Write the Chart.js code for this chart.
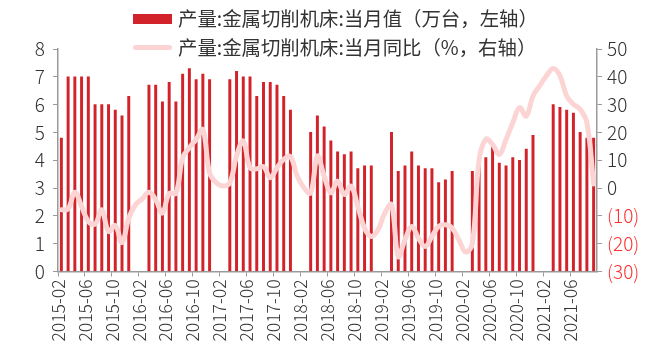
<!DOCTYPE html>
<html>
<head>
<meta charset="utf-8">
<script src="https://cdn.jsdelivr.net/npm/chart.js@4.4.1/dist/chart.umd.min.js"></script>
<style>
    html, body { margin: 0; padding: 0; background: #fff; }
    #wrap { position: relative; width: 650px; height: 355px; overflow: hidden; }
    #chart { position: absolute; left: 0; top: 0; }
    .lg { position: absolute; font-family: "Noto Sans CJK SC", sans-serif; font-size: 19.4px; color: #333; white-space: nowrap; line-height: 22px; }
    .sw { position: absolute; }
</style>
</head>
<body>
<div id="wrap">
    <canvas id="chart" width="650" height="355"></canvas>
    <div class="sw" style="left:133px; top:14px; width:39px; height:10px; background:#d2232a;"></div>
    <div class="lg" style="left:178px; top:7px;">产量:金属切削机床:当月值（万台，左轴）</div>
    <div class="sw" style="left:133px; top:45px; width:39px; height:5px; border-radius:3px; background:#fcd4d4;"></div>
    <div class="lg" style="left:178px; top:36px;">产量:金属切削机床:当月同比（%，右轴）</div>
</div>
<script>
// months 2015-02 .. 2021-09
const months = [];
for (let y = 2015; y <= 2021; y++) {
    for (let m = 1; m <= 12; m++) {
        if (y === 2015 && m < 2) continue;
        if (y === 2021 && m > 9) continue;
        months.push(`${y}-${String(m).padStart(2, "0")}`);
    }
}

// 当月值 (万台), left axis
const output = [
    4.8, 7.0, 7.0, 7.0, 7.0, 6.0, 6.0, 6.0, 5.8, 5.6, 6.3,
    null, null, 6.7, 6.7, 6.1, 6.8, 6.1, 7.1, 7.3, 6.9, 7.1, 6.9,
    null, null, 6.9, 7.2, 7.0, 7.0, 6.3, 6.8, 6.8, 6.7, 6.3, 5.8,
    null, null, 5.0, 5.6, 5.2, 4.7, 4.3, 4.2, 4.3, 3.7, 3.8, 3.8,
    null, null, 5.0, 3.6, 3.8, 4.3, 3.8, 3.7, 3.7, 3.2, 3.3, 3.6,
    null, null, 3.6, 3.8, 4.1, 4.5, 3.9, 3.8, 4.1, 4.0, 4.4, 4.9,
    null, null, 6.0, 5.9, 5.8, 5.7, 5.0, 4.8, 4.8
];

// 当月同比 (%), right axis
const yoy = [
    -7.8, -7.5, -1.5, -6.6, -12, -13, -7.8, -15.6, -13.5, -19.6, -10.8,
    -6, -3.9, -1.5, -4.2, -9, -1.9, -1.9, 10.9, 14.5, 17.5, 21, 5.5,
    1.9, 0.7, 1.9, 11.5, 16.9, 7.3, 6.9, 7.7, 3.7, 7.3, 10.3, 11.3,
    4.3, 0.1, -1.7, 11.5, 4.3, -1.7, 2.5, -2.3, 0.7, -6.6, -14.4, -17.4,
    -15, -9, -6, -24.6, -18.6, -13.8, -18, -21, -17.4, -13.8, -13.2, -14.4,
    -18.6, -23, -20, 10, 17.5, 15.7, 12.1, 17.5, 23.5, 28.9, 25.9, 33.1,
    36.8, 40.4, 43, 40.4, 33.1, 30.1, 28.3, 23.5, 1.5
];

const leftTicks = [0, 1, 2, 3, 4, 5, 6, 7, 8];
const rightTicks = [-30, -20, -10, 0, 10, 20, 30, 40, 50];

const barRed = "#d2232a";
const linePink = "#fcd4d4";
const axisGray = "#9a9a9a";
const tickFont = { family: "Noto Sans CJK SC", size: 19, weight: "300" };

new Chart(document.getElementById("chart"), {
    type: "bar",
    data: {
        labels: months,
        datasets: [
            {
                type: "line",
                label: "产量:金属切削机床:当月同比（%，右轴）",
                data: yoy,
                yAxisID: "y1",
                borderColor: linePink,
                borderWidth: 5,
                pointRadius: 0,
                tension: 0.4,
                borderCapStyle: "round",
                borderJoinStyle: "round",
                order: 0
            },
            {
                label: "产量:金属切削机床:当月值（万台，左轴）",
                data: output,
                yAxisID: "y",
                backgroundColor: barRed,
                barThickness: 2.3,
                order: 1
            }
        ]
    },
    options: {
        responsive: false,
        animation: false,
        layout: { padding: { top: 49, left: 0, right: 0, bottom: 0 } },
        plugins: {
            legend: { display: false },
            tooltip: { enabled: false }
        },
        scales: {
            x: {
                grid: {
                    drawOnChartArea: false,
                    tickLength: 5,
                    color: ctx => ctx.index % 4 === 0 ? axisGray : "rgba(0,0,0,0)"
                },
                border: { color: axisGray, width: 1.5 },
                ticks: {
                    autoSkip: false,
                    minRotation: 90,
                    maxRotation: 90,
                    labelOffset: -3.37,
                    padding: 3,
                    color: "#333",
                    font: { family: "Noto Sans CJK SC", size: 17.5, weight: "300" },
                    callback: (v, i) => i % 4 === 0 ? months[i] : ""
                },
                afterFit: s => { s.height = 83.5; }
            },
            y: {
                position: "left",
                min: leftTicks[0],
                max: leftTicks[leftTicks.length - 1],
                afterBuildTicks: s => { s.ticks = leftTicks.map(v => ({ value: v })); },
                grid: { drawOnChartArea: false, tickLength: 5, color: axisGray },
                border: { color: axisGray, width: 1.5 },
                ticks: { padding: 8, color: "#333", font: tickFont },
                afterFit: s => { s.width = 58; }
            },
            y1: {
                position: "right",
                min: rightTicks[0],
                max: rightTicks[rightTicks.length - 1],
                afterBuildTicks: s => { s.ticks = rightTicks.map(v => ({ value: v })); },
                grid: { drawOnChartArea: false, tickLength: 5, color: axisGray },
                border: { color: axisGray, width: 1.5 },
                ticks: {
                    padding: 5,
                    font: tickFont,
                    color: ctx => ctx.tick && ctx.tick.value < 0 ? "#ff3030" : "#333",
                    callback: v => v < 0 ? `(${-v})` : `${v}`
                },
                afterFit: s => { s.width = 53; }
            }
        }
    }
});
</script>
</body>
</html>
